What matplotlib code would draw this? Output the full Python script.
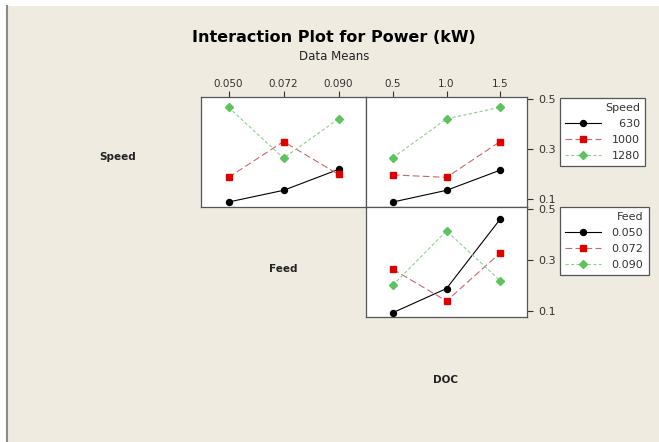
import matplotlib
matplotlib.use("Agg")
import matplotlib.pyplot as plt
from matplotlib.patches import Rectangle
from matplotlib.lines import Line2D

# ---------------- data ----------------
feed_levels = ["0.050", "0.072", "0.090"]
doc_levels = ["0.5", "1.0", "1.5"]
speed_levels = ["630", "1000", "1280"]

# Speed x Feed (top-left panel), mean power per feed level
speed630_by_feed = [0.086, 0.133, 0.217]
speed1000_by_feed = [0.185, 0.329, 0.197]
speed1280_by_feed = [0.467, 0.262, 0.420]

# Speed x DOC (top-right panel), mean power per DOC level
speed630_by_doc = [0.086, 0.133, 0.214]
speed1000_by_doc = [0.195, 0.185, 0.329]
speed1280_by_doc = [0.264, 0.420, 0.467]

# Feed x DOC (bottom-right panel), mean power per DOC level
feed050_by_doc = [0.092, 0.187, 0.460]
feed072_by_doc = [0.263, 0.138, 0.327]
feed090_by_doc = [0.200, 0.414, 0.218]

y_ticks = [0.1, 0.3, 0.5]

# ---------------- styles ----------------
W, H = 659, 442
BG = "#EFEBE1"
styles = [
    dict(color="black", linestyle="-", marker="o", mfc="black", mec="black", ms=4.3, lw=0.8),
    dict(color="#C86868", linestyle=(0, (6, 3)), marker="s", mfc="#E00000", mec="#E00000", ms=4.3, lw=0.8),
    dict(color="#8FCF8F", linestyle=(0, (3, 2)), marker="D", mfc="#5CC45C", mec="#5CC45C", ms=4.0, lw=0.8),
]

fig = plt.figure(figsize=(W / 100, H / 100), dpi=100, facecolor="white")

# beige background and left border
fig.patches.append(Rectangle((7 / W, 0), 1 - 7 / W, 1 - 6 / H, transform=fig.transFigure,
                             facecolor=BG, edgecolor="none", zorder=-10))
fig.add_artist(Line2D([7 / W, 7 / W], [0, 1 - 6 / H], transform=fig.transFigure,
                      color="#8A8A8A", lw=1.5))


def px_axes(x0, y0, x1, y1):
    return fig.add_axes([x0 / W, 1 - y1 / H, (x1 - x0) / W, (y1 - y0) / H])


ax_tl = px_axes(201, 97, 366, 207)
ax_tr = px_axes(366, 97, 527, 207)
ax_br = px_axes(366, 207, 527, 317)

pos = [0, 1, 2]


def style_axes(ax, top_labels=None, right_ticks=False, ylim=(0.066, 0.508)):
    ax.set_facecolor("white")
    ax.set_xlim(-0.5, 2.5)
    ax.set_ylim(*ylim)
    for s in ax.spines.values():
        s.set_color("#555555")
        s.set_linewidth(0.9)
    if top_labels is not None:
        ax.xaxis.tick_top()
        ax.set_xticks(pos)
        ax.set_xticklabels(top_labels)
        ax.tick_params(axis="x", direction="out", length=4, pad=2, labelsize=7.5,
                       colors="#333333", top=True, bottom=False)
    else:
        ax.set_xticks([])
    if right_ticks:
        ax.yaxis.tick_right()
        ax.set_yticks(y_ticks)
        ax.set_yticklabels([str(v) for v in y_ticks])
        ax.tick_params(axis="y", direction="out", length=4, pad=4, labelsize=8,
                       colors="#333333", right=True, left=False)
    else:
        ax.set_yticks([])


# top-left: Speed by Feed
for vals, st in zip([speed630_by_feed, speed1000_by_feed, speed1280_by_feed], styles):
    ax_tl.plot(pos, vals, **st)
style_axes(ax_tl, top_labels=feed_levels)

# top-right: Speed by DOC
speed_handles = []
for vals, st, lab in zip([speed630_by_doc, speed1000_by_doc, speed1280_by_doc], styles, speed_levels):
    h, = ax_tr.plot(pos, vals, label=lab, **st)
    speed_handles.append(h)
style_axes(ax_tr, top_labels=doc_levels, right_ticks=True)

# bottom-right: Feed by DOC
feed_handles = []
for vals, st, lab in zip([feed050_by_doc, feed072_by_doc, feed090_by_doc], styles, feed_levels):
    h, = ax_br.plot(pos, vals, label=lab, **st)
    feed_handles.append(h)
style_axes(ax_br, right_ticks=True, ylim=(0.075, 0.508))

FS = "\u2007"
pad_labels = lambda labs: [FS * (4 - len(l)) + l if len(l) < 4 else l for l in labs]

leg_kw = dict(loc="upper left", frameon=True, fancybox=False, fontsize=8, title_fontsize=8,
              handlelength=3.2, handletextpad=1.0, borderpad=0.45, labelspacing=0.55,
              borderaxespad=0, alignment="right", edgecolor="#555555", facecolor="white",
              framealpha=1)
leg1 = fig.legend(speed_handles, pad_labels(speed_levels), title="Speed",
                  bbox_to_anchor=(560 / W, 1 - 98 / H), **leg_kw)
leg1.get_frame().set_linewidth(0.9)
leg2 = fig.legend(feed_handles, feed_levels, title="Feed",
                  bbox_to_anchor=(560 / W, 1 - 207 / H), **leg_kw)
leg2.get_frame().set_linewidth(0.9)
for lg in (leg1, leg2):
    lg.get_title().set_color("#333333")
    for t in lg.get_texts():
        t.set_color("#333333")

# titles
fig.text(334 / W, 1 - 37 / H, "Interaction Plot for Power (kW)", ha="center", va="center",
         fontsize=11.5, fontweight="bold", color="black")
fig.text(334 / W, 1 - 57 / H, "Data Means", ha="center", va="center", fontsize=8.5,
         color="#222222")

# factor labels on diagonal
fig.text(118 / W, 1 - 157 / H, "Speed", ha="center", va="center", fontsize=7.5,
         fontweight="bold", color="#222222")
fig.text(283 / W, 1 - 269 / H, "Feed", ha="center", va="center", fontsize=7.5,
         fontweight="bold", color="#222222")
fig.text(446 / W, 1 - 380 / H, "DOC", ha="center", va="center", fontsize=7.5,
         fontweight="bold", color="#222222")

fig.savefig("out.png", dpi=100, facecolor="white")
